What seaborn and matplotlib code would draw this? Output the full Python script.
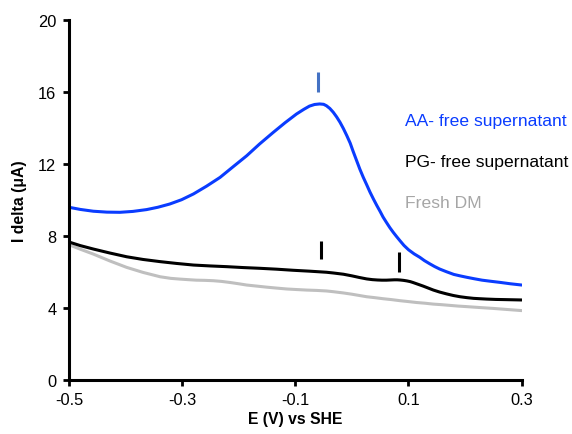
import matplotlib
matplotlib.use("Agg")
import matplotlib.pyplot as plt
import seaborn as sns
import pandas as pd

# Potential (V vs SHE) and current difference (µA) for each sample
aa_e = [-0.500, -0.480, -0.457, -0.433, -0.410, -0.387, -0.363, -0.343, -0.322,
        -0.301, -0.280, -0.257, -0.233, -0.210, -0.186, -0.163, -0.139, -0.118,
        -0.098, -0.085, -0.075, -0.066, -0.057, -0.050, -0.045, -0.039, -0.033,
        -0.027, -0.021, -0.015, -0.009, -0.003, 0.002, 0.008, 0.014, 0.020,
        0.026, 0.032, 0.038, 0.044, 0.050, 0.055, 0.061, 0.067, 0.073, 0.079,
        0.085, 0.092, 0.100, 0.110, 0.120, 0.128, 0.137, 0.146, 0.155, 0.167,
        0.180, 0.191, 0.203, 0.216, 0.230, 0.245, 0.261, 0.280, 0.300]
aa_i = [9.58, 9.46, 9.36, 9.31, 9.30, 9.35, 9.45, 9.58, 9.76,
        10.00, 10.32, 10.75, 11.24, 11.83, 12.44, 13.10, 13.74, 14.28,
        14.76, 15.02, 15.20, 15.29, 15.32, 15.30, 15.22, 15.07, 14.86,
        14.60, 14.30, 13.95, 13.56, 13.14, 12.70, 12.20, 11.70, 11.25,
        10.84, 10.42, 10.04, 9.68, 9.34, 9.04, 8.74, 8.45, 8.19, 7.95,
        7.72, 7.46, 7.22, 6.99, 6.80, 6.62, 6.45, 6.29, 6.15, 6.00,
        5.85, 5.77, 5.69, 5.61, 5.53, 5.47, 5.41, 5.33, 5.26]

pg_e = [-0.500, -0.480, -0.457, -0.428, -0.398, -0.369, -0.339, -0.310, -0.280,
        -0.250, -0.221, -0.192, -0.163, -0.133, -0.104, -0.075, -0.045, -0.033,
        -0.015, 0.000, 0.013, 0.026, 0.036, 0.045, 0.053, 0.061, 0.068, 0.075,
        0.080, 0.085, 0.091, 0.097, 0.103, 0.108, 0.117, 0.126, 0.135, 0.144,
        0.155, 0.167, 0.179, 0.191, 0.203, 0.215, 0.226, 0.238, 0.254, 0.270,
        0.285, 0.300]
pg_i = [7.65, 7.45, 7.26, 7.04, 6.83, 6.68, 6.56, 6.46, 6.37,
        6.32, 6.28, 6.23, 6.19, 6.14, 6.08, 6.03, 5.97, 5.93,
        5.86, 5.77, 5.68, 5.60, 5.56, 5.54, 5.53, 5.53, 5.54, 5.55,
        5.55, 5.54, 5.52, 5.49, 5.45, 5.40, 5.30, 5.20, 5.09, 4.98,
        4.87, 4.77, 4.68, 4.61, 4.56, 4.52, 4.50, 4.48, 4.46, 4.45,
        4.44, 4.43]

dm_e = [-0.500, -0.480, -0.457, -0.428, -0.398, -0.369, -0.339, -0.320, -0.304,
        -0.290, -0.275, -0.260, -0.245, -0.230, -0.215, -0.200, -0.186, -0.168,
        -0.150, -0.133, -0.115, -0.098, -0.080, -0.062, -0.045, -0.033, -0.015,
        0.000, 0.013, 0.026, 0.040, 0.055, 0.070, 0.085, 0.100, 0.114, 0.129,
        0.144, 0.158, 0.173, 0.188, 0.203, 0.226, 0.250, 0.275, 0.300]
dm_i = [7.50, 7.25, 6.98, 6.60, 6.24, 5.96, 5.72, 5.63, 5.59,
        5.56, 5.53, 5.52, 5.50, 5.46, 5.40, 5.33, 5.26, 5.20,
        5.14, 5.09, 5.04, 5.01, 4.98, 4.96, 4.93, 4.89, 4.82,
        4.75, 4.68, 4.61, 4.56, 4.50, 4.45, 4.39, 4.34, 4.29, 4.25,
        4.20, 4.17, 4.13, 4.09, 4.06, 4.01, 3.96, 3.90, 3.84]

series = ["AA- free supernatant", "PG- free supernatant", "Fresh DM"]
colors = ["#0a3cff", "#000000", "#bfbfbf"]
label_colors = ["#0a3cff", "#000000", "#a6a6a6"]

# Peak positions flagged with short vertical bars (E, I bottom, I top)
peak_e = [-0.060, -0.054, 0.084]
peak_lo = [16.0, 6.7, 6.0]
peak_hi = [17.1, 7.7, 7.1]
peak_colors = ["#4472c4", "#000000", "#000000"]

df = pd.concat([
    pd.DataFrame({"E": aa_e, "I": aa_i, "sample": series[0]}),
    pd.DataFrame({"E": pg_e, "I": pg_i, "sample": series[1]}),
    pd.DataFrame({"E": dm_e, "I": dm_i, "sample": series[2]}),
])

sns.set_style("ticks", {"axes.edgecolor": "black", "text.color": "black",
                        "axes.labelcolor": "black", "xtick.color": "black",
                        "ytick.color": "black"})
plt.rcParams["font.family"] = ["Liberation Sans", "DejaVu Sans"]

fig = plt.figure(figsize=(5.72, 4.35), dpi=100)
ax = fig.add_axes([0.1206, 0.1248, 0.7914, 0.8276])

# Draw grey first so the darker traces sit on top
order = [series[2], series[1], series[0]]
pal = dict(zip(series, colors))
for name in order:
    sns.lineplot(data=df[df["sample"] == name], x="E", y="I", color=pal[name],
                 lw=2.2, ax=ax, sort=False, legend=False,
                 solid_joinstyle="round", solid_capstyle="round")

for e, lo, hi, c in zip(peak_e, peak_lo, peak_hi, peak_colors):
    ax.vlines(e, lo, hi, color=c, lw=2.2)

ax.set_xlim(-0.5, 0.3)
ax.set_ylim(0, 20)
ax.set_xticks([-0.5, -0.3, -0.1, 0.1, 0.3])
ax.set_xticklabels(["-0.5", "-0.3", "-0.1", "0.1", "0.3"])
ax.set_yticks([0, 4, 8, 12, 16, 20])
ax.tick_params(direction="out", length=4, width=2, labelsize=11.8, pad=5,
               colors="black")
for s in ["left", "bottom"]:
    ax.spines[s].set_linewidth(2.2)
    ax.spines[s].set_color("black")
sns.despine(ax=ax)

ax.set_xlabel("E (V) vs SHE", fontsize=11.3, fontweight="bold", labelpad=3,
              color="black")
ax.set_ylabel("I delta (\u03bcA)", fontsize=11.3, fontweight="bold", labelpad=8,
              color="black")

# Series labels placed beside the curves
label_y = [14.39, 12.11, 9.87]
for name, y, c in zip(series, label_y, label_colors):
    ax.text(0.0936, y, name, color=c, fontsize=12.6, va="center", ha="left",
            clip_on=False)

fig.savefig("out.png", dpi=100)
